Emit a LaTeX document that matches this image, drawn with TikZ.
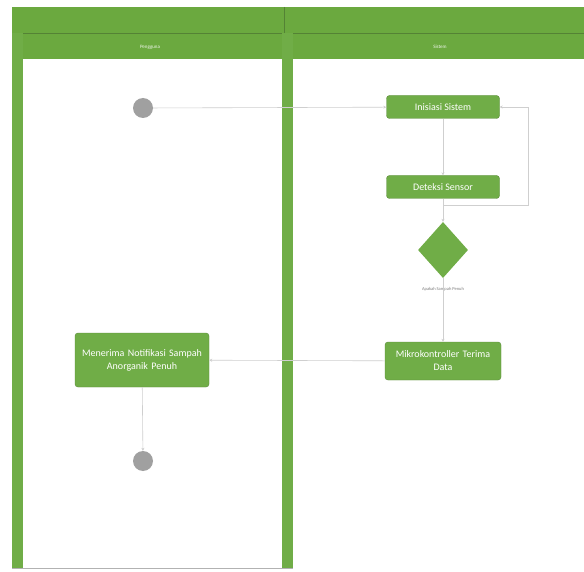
\documentclass[tikz,border=0pt]{standalone}
\usepackage{fontspec}
\setmainfont{Carlito}
\usetikzlibrary{shapes.geometric,arrows.meta}
\definecolor{lanegreen}{HTML}{70AD47}
\definecolor{headgreen}{HTML}{6BA93F}
\definecolor{linegray}{HTML}{CFCFCF}
\definecolor{dotgray}{HTML}{A0A0A0}
\tikzset{
  actbox/.style={draw=lanegreen!80!black, line width=0.4pt, fill=lanegreen, rounded corners=3pt, text=white, font=\fontsize{10}{13}\selectfont, align=center, minimum height=23pt, inner sep=1pt},
  startdot/.style={circle, fill=dotgray, minimum size=20pt, inner sep=0pt},
  decision/.style={diamond, fill=lanegreen, minimum width=50pt, minimum height=56pt, inner sep=0pt, aspect=0.9},
  flow/.style={draw=linegray, line width=0.6pt, -{Stealth[length=3pt,width=3pt]}},
  lanetitle/.style={text=white!90!lanegreen, font=\fontsize{5}{6}\selectfont},
}
\begin{document}
\begin{tikzpicture}[x=1pt,y=-1pt]
\useasboundingbox (0,0) rectangle (584,572);
\fill[white] (0,0) rectangle (584,572);
% header rows
\fill[headgreen] (12,7) rectangle (584,59);
\draw[lanegreen!75!black, line width=0.6pt] (12,33) -- (584,33);
\draw[lanegreen!75!black, line width=0.6pt] (284,7) -- (284,33);
% lane bars
\fill[lanegreen] (12,33) rectangle (23,568);
\fill[lanegreen] (282,33) rectangle (293,568);
\fill[white] (23,59) rectangle (282,568);
\fill[white] (293,59) rectangle (584,572);
\draw[gray!60, line width=0.5pt] (12,568) -- (293,568);
\node[lanetitle] (t1) at (150,47) {Pengguna};
\node[lanetitle] (t2) at (440,47) {Sistem};
% nodes
\node[startdot] (start) at (143,108) {};
\node[actbox, minimum width=113pt] (init) at (443,107) {Inisiasi Sistem};
\node[actbox, minimum width=113pt] (det) at (443,187) {Deteksi Sensor};
\node[decision] (dec) at (443,250) {};
\node[text=gray, font=\fontsize{4.5}{5.5}\selectfont, anchor=north] (declbl) at (443,284) {Apakah Sampah Penuh};
\node[actbox, minimum width=116pt, minimum height=38pt, text width=114pt] (mik) at (443,361) {Mikrokontroller Terima\\Data};
\node[actbox, minimum width=134pt, minimum height=54pt, text width=132pt] (ter) at (142,360) {Menerima Notifikasi Sampah\\Anorganik Penuh};
\node[startdot] (end) at (143,461) {};
\coordinate (j) at (443,205);
\coordinate (r) at (528,205);
% connectors
\draw[flow] (start) -- (init);
\draw[flow] (init) -- (det);
\draw[flow] (det) -- (dec);
\draw[flow] (j) -- (r) |- (init.east);
\draw[flow] (dec) -- (mik);
\draw[flow] (mik) -- (ter);
\draw[flow] (ter) -- (end);
\end{tikzpicture}
\end{document}
